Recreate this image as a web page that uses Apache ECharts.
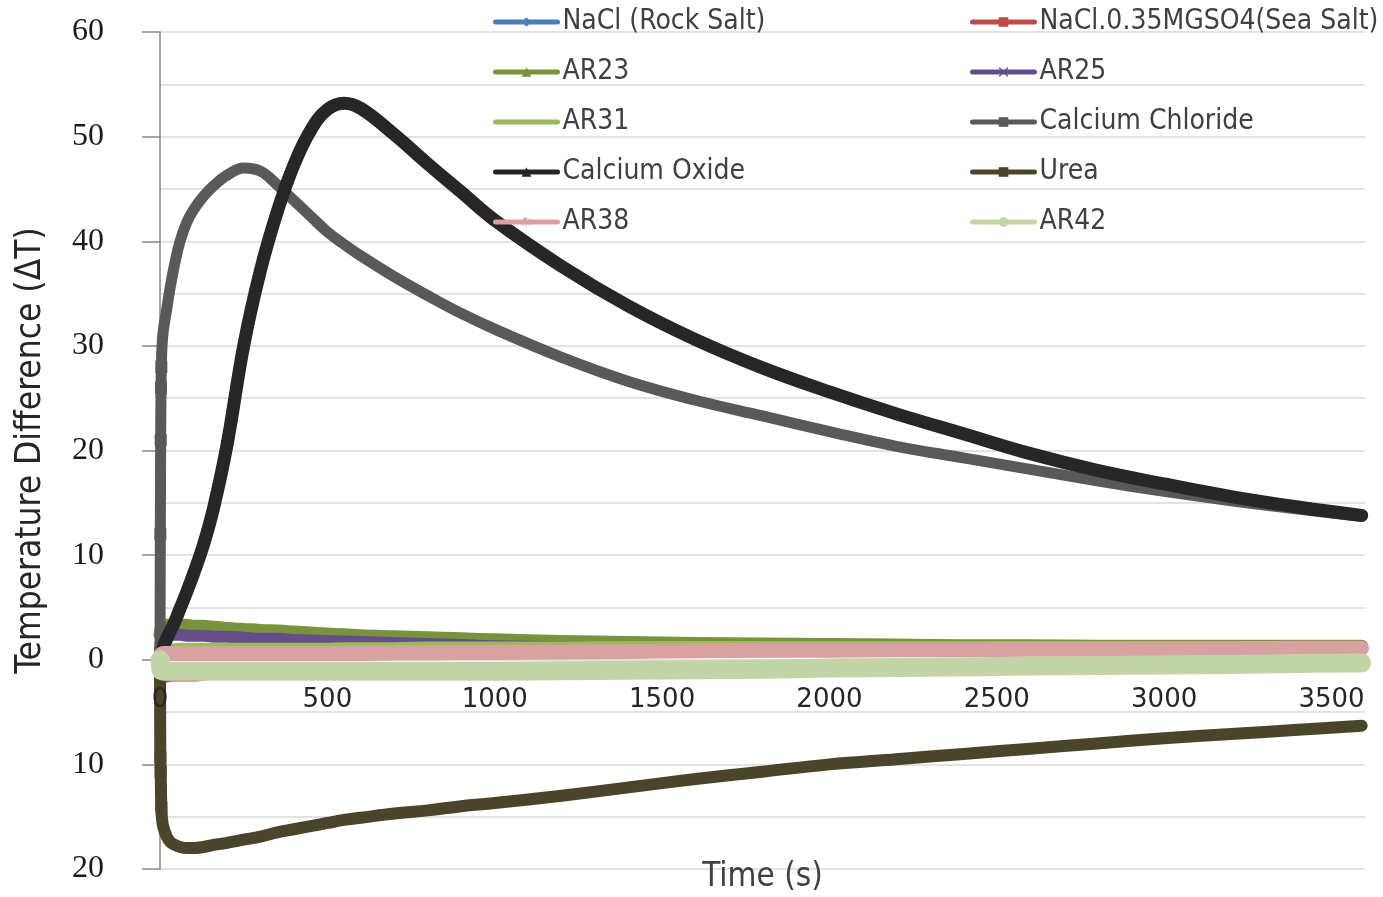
<!DOCTYPE html>
<html>
<head>
<meta charset="utf-8">
<script src="https://cdn.jsdelivr.net/npm/echarts@6/dist/echarts.min.js"></script>
<style>
  html, body { margin: 0; padding: 0; background: #fff; }
  #chart { width: 1383px; height: 897px; }
</style>
</head>
<body>
<div id="chart"></div>
<script>
// time points (s)
var times = [0, 1, 2, 3, 4, 6, 10, 20, 30, 45, 60, 80, 100, 130, 160, 200, 250, 300, 350, 400, 450, 500, 550, 600, 700, 800, 900, 1000, 1200, 1400, 1600, 1800, 2000, 2200, 2400, 2600, 2800, 3000, 3200, 3400, 3590];

// temperature difference per material
var naclRock   = [-0.5, -1.3, -1.6, -1.7, -1.7, -1.7, -1.7, -1.7, -1.6, -1.5, -1.4, -1.3, -1.2, -1.2, -1.1, -1.1, -1.1, -1.1, -1.1, -1.1, -1.1, -1.1, -1.1, -1.1, -1.1, -1.1, -1.1, -1.1, -1.0, -1.0, -0.9, -0.8, -0.8, -0.7, -0.6, -0.6, -0.5, -0.5, -0.4, -0.4, -0.3];
var naclSea    = [-0.5, -1.2, -1.5, -1.6, -1.6, -1.6, -1.6, -1.6, -1.6, -1.6, -1.6, -1.6, -1.6, -1.5, -1.4, -1.3, -1.2, -1.2, -1.1, -1.1, -1.1, -1.1, -1.1, -1.1, -1.1, -1.1, -1.1, -1.1, -1.0, -1.0, -0.9, -0.8, -0.8, -0.7, -0.6, -0.6, -0.5, -0.5, -0.4, -0.4, -0.3];
var ar23       = [2.4, 2.6, 2.8, 2.9, 3.0, 3.1, 3.2, 3.3, 3.3, 3.3, 3.3, 3.3, 3.2, 3.2, 3.1, 3.0, 2.9, 2.8, 2.75, 2.65, 2.55, 2.45, 2.4, 2.3, 2.2, 2.1, 2.0, 1.9, 1.75, 1.65, 1.55, 1.5, 1.45, 1.4, 1.35, 1.35, 1.3, 1.3, 1.3, 1.3, 1.3];
var ar25       = [1.0, 1.3, 1.6, 1.8, 1.9, 2.0, 2.2, 2.3, 2.4, 2.4, 2.4, 2.3, 2.3, 2.3, 2.2, 2.2, 2.1, 2.0, 2.0, 1.9, 1.85, 1.8, 1.75, 1.7, 1.6, 1.5, 1.4, 1.3, 1.2, 1.15, 1.1, 1.1, 1.05, 1.05, 1.0, 1.0, 1.0, 1.0, 1.0, 1.0, 1.0];
var ar31       = [0.3, 0.5, 0.7, 0.8, 0.9, 1.0, 1.1, 1.2, 1.2, 1.25, 1.3, 1.3, 1.3, 1.3, 1.3, 1.3, 1.3, 1.3, 1.3, 1.3, 1.3, 1.3, 1.35, 1.35, 1.35, 1.4, 1.4, 1.4, 1.4, 1.45, 1.45, 1.45, 1.45, 1.45, 1.45, 1.45, 1.45, 1.45, 1.45, 1.45, 1.45];
var caCl       = [0, 12, 21, 26, 28, 30, 31.5, 33.5, 35.5, 38, 40, 41.8, 43, 44.3, 45.3, 46.3, 47.0, 46.7, 45.4, 43.9, 42.4, 40.9, 39.7, 38.6, 36.6, 34.8, 33.1, 31.6, 28.9, 26.6, 24.8, 23.3, 21.8, 20.4, 19.3, 18.2, 17.1, 16.1, 15.2, 14.4, 13.7];
var caO        = [0, 0.1, 0.2, 0.3, 0.4, 0.6, 1.2, 2.0, 2.7, 3.7, 4.9, 6.5, 8.2, 11.0, 14.5, 20.5, 30.0, 37.2, 42.8, 47.3, 50.6, 52.6, 53.2, 52.7, 50.2, 47.4, 44.7, 42.0, 37.6, 33.8, 30.6, 27.9, 25.6, 23.5, 21.6, 19.7, 18.1, 16.8, 15.6, 14.6, 13.8];
var urea       = [0, -9.3, -10.7, -12.6, -14.1, -15.2, -16.0, -16.9, -17.4, -17.7, -17.9, -18.0, -18.0, -17.9, -17.7, -17.5, -17.2, -16.9, -16.5, -16.2, -15.9, -15.6, -15.3, -15.1, -14.7, -14.4, -14.0, -13.7, -13.0, -12.2, -11.4, -10.7, -10.0, -9.5, -9.0, -8.5, -8.0, -7.5, -7.1, -6.7, -6.3];
var ar38       = [0.0, 0.2, 0.3, 0.4, 0.5, 0.55, 0.6, 0.6, 0.6, 0.6, 0.6, 0.6, 0.6, 0.6, 0.6, 0.6, 0.6, 0.6, 0.6, 0.6, 0.6, 0.6, 0.6, 0.6, 0.65, 0.65, 0.7, 0.7, 0.75, 0.8, 0.85, 0.9, 0.9, 0.95, 0.95, 1.0, 1.0, 1.05, 1.05, 1.1, 1.1];
var ar42       = [0, -0.5, -0.8, -0.9, -1.0, -1.0, -1.1, -1.1, -1.1, -1.1, -1.1, -1.1, -1.1, -1.1, -1.1, -1.1, -1.1, -1.1, -1.1, -1.1, -1.1, -1.1, -1.1, -1.1, -1.1, -1.1, -1.1, -1.1, -1.05, -1.0, -0.95, -0.9, -0.8, -0.75, -0.7, -0.6, -0.55, -0.5, -0.45, -0.35, -0.3];

var yTicks = [-20, -10, 0, 10, 20, 30, 40, 50, 60];

var legendLeft  = ['NaCl (Rock Salt)', 'AR23', 'AR31', 'Calcium Oxide', 'AR38'];
var legendRight = ['NaCl.0.35MGSO4(Sea Salt)', 'AR25', 'Calcium Chloride', 'Urea', 'AR42'];

// marker shapes
var xMark    = 'path://M1,0L5,4L9,0L10,1L6,5L10,9L9,10L5,6L1,10L0,9L4,5L0,1Z';
var starMark = 'path://M4.6,0H5.4V4.1L8.6,1L9.2,1.6L6,4.6H10V5.4H6L9.2,8.4L8.6,9L5.4,5.9V10H4.6V5.9L1.4,9L0.8,8.4L4,5.4H0V4.6H4L0.8,1.6L1.4,1Z';
var noMark   = 'path://M0,0M1,1Z';

var sansFont = "'DejaVu Sans Condensed', 'Liberation Sans Narrow', sans-serif";

// plot box (px)
var gridTop = 32, gridBottom = 28, chartH = 897;

function pairs(vals) {
    var out = [];
    for (var i = 0; i < times.length; i++) {
        out.push([times[i], vals[i]]);
    }
    return out;
}

function mkSeries(name, vals, color, width, symbol, earlyMarks) {
    return {
        name: name,
        type: 'line',
        data: pairs(vals),
        smooth: 0.4,
        symbol: symbol,
        showSymbol: !!earlyMarks,
        symbolSize: earlyMarks ? function (v) { return (v[0] > 0 && v[0] < 6) ? 12 : 0; } : 8,
        itemStyle: { color: color },
        lineStyle: { color: color, width: width, cap: 'round', join: 'round' },
        emphasis: { disabled: true }
    };
}

// the x axis sits on y = 0: lift it from the bottom edge of the plot
var yMin = yTicks[0], yMax = yTicks[yTicks.length - 1];
var plotH = chartH - gridTop - gridBottom;
var zeroLift = plotH * (0 - yMin) / (yMax - yMin);

var chart = echarts.init(document.getElementById('chart'));

var legendText = {
    fontFamily: sansFont,
    fontSize: 28,
    lineHeight: 30,
    color: '#404040'
};

chart.setOption({
    animation: false,
    backgroundColor: '#ffffff',
    grid: { left: 160, right: 18, top: gridTop, bottom: gridBottom, containLabel: false, outerBoundsMode: 'none' },
    legend: [{
        data: legendLeft,
        orient: 'vertical',
        left: 493,
        top: 7,
        padding: 0,
        itemWidth: 62,
        itemHeight: 12,
        itemGap: 20,
        selectedMode: false,
        textStyle: legendText,
        lineStyle: { width: 5 }
    }, {
        data: legendRight,
        orient: 'vertical',
        left: 970,
        top: 7,
        padding: 0,
        itemWidth: 62,
        itemHeight: 12,
        itemGap: 20,
        selectedMode: false,
        textStyle: legendText,
        lineStyle: { width: 5 }
    }],
    xAxis: {
        type: 'value',
        z: 5,
        min: 0,
        max: 3600,
        interval: 500,
        offset: -zeroLift,
        name: 'Time (s)',
        nameLocation: 'middle',
        nameGap: 201,
        nameTextStyle: {
            fontFamily: sansFont,
            fontSize: 33,
            color: '#404040'
        },
        axisLine: { show: false, onZero: false },
        axisTick: { show: false },
        splitLine: { show: false },
        axisLabel: {
            showMinLabel: true,
            showMaxLabel: false,
            hideOverlap: false,
            margin: 27,
            fontFamily: "'DejaVu Sans', sans-serif",
            fontSize: 26,
            color: '#262626',
            formatter: function (v) { return String(v); }
        }
    },
    yAxis: {
        type: 'value',
        min: yMin,
        max: yMax,
        interval: 10,
        name: 'Temperature Difference (\u0394T)',
        nameLocation: 'middle',
        nameRotate: 90,
        nameGap: 112,
        nameTextStyle: {
            fontFamily: sansFont,
            fontSize: 35,
            color: '#262626'
        },
        axisLine: { show: true, onZero: false, lineStyle: { color: '#868686', width: 1.5 } },
        axisTick: { show: true, inside: false, length: 18, lineStyle: { color: '#868686', width: 1.5 } },
        splitLine: { show: true, lineStyle: { color: '#d9d9d9', width: 1.5 } },
        minorTick: { show: false, splitNumber: 2 },
        minorSplitLine: { show: true, lineStyle: { color: '#d9d9d9', width: 1.5 } },
        axisLabel: {
            margin: 56,
            fontFamily: "'Liberation Serif', 'DejaVu Serif', serif",
            fontSize: 32,
            color: '#1a1a1a',
            formatter: function (v) { return String(Math.abs(v)); }
        }
    },
    series: [
        mkSeries('NaCl (Rock Salt)', naclRock, '#4a7ebb', 10, 'diamond'),
        mkSeries('NaCl.0.35MGSO4(Sea Salt)', naclSea, '#be4b48', 10, 'rect'),
        mkSeries('AR23', ar23, '#77933c', 13, 'triangle'),
        mkSeries('AR25', ar25, '#654d89', 12, xMark),
        mkSeries('AR31', ar31, '#9bbb59', 7, noMark),
        mkSeries('Calcium Chloride', caCl, '#595959', 11, 'rect', true),
        mkSeries('Calcium Oxide', caO, '#262626', 13, 'triangle'),
        mkSeries('Urea', urea, '#4a452a', 12, 'rect', true),
        mkSeries('AR38', ar38, '#d7a2a1', 15, starMark),
        mkSeries('AR42', ar42, '#c3d5a6', 19, 'circle')
    ]
});
</script>
</body>
</html>
